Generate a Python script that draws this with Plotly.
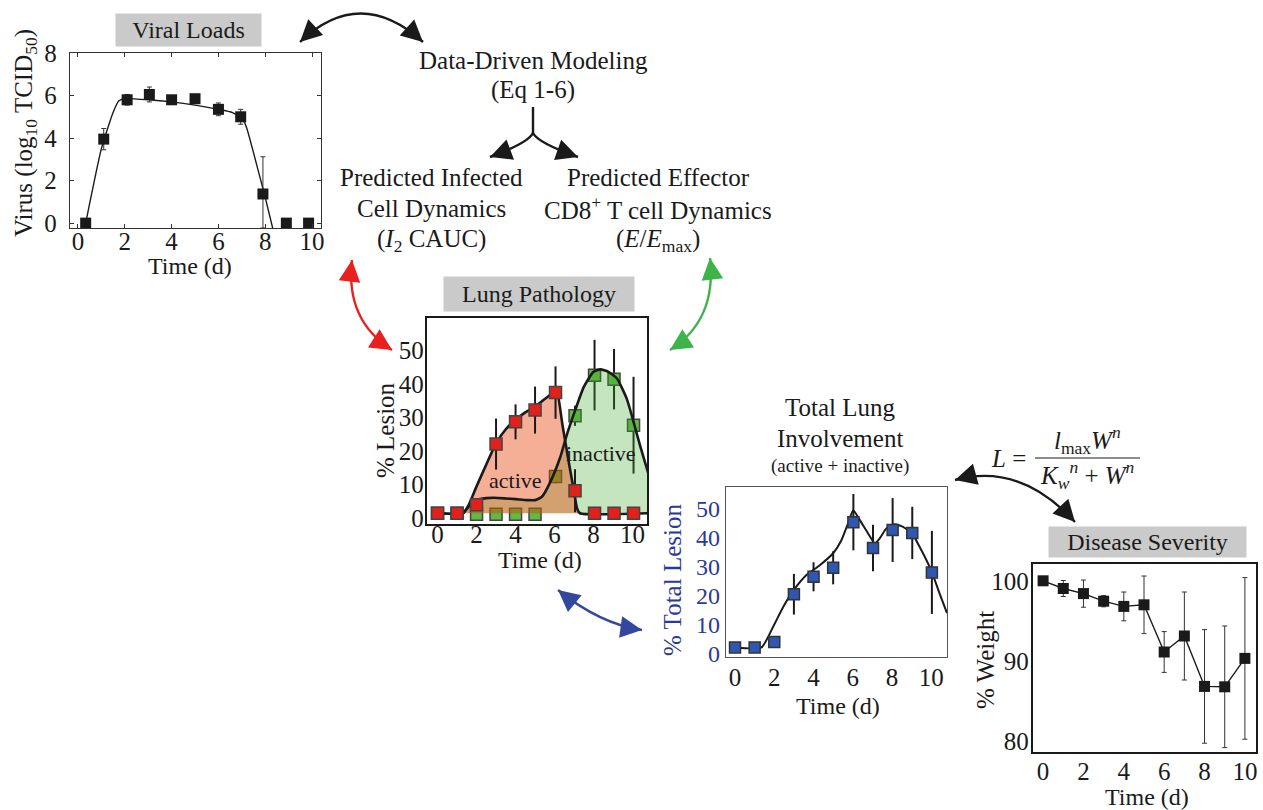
import plotly.graph_objects as go
import numpy as np

W, H = 1263, 810
FONT = "Liberation Serif"
INK = "#1a1a1a"

# ---------------- data ----------------
# Viral loads
viral_t = [0.33, 1.1, 2.1, 3.05, 4.0, 5.0, 6.0, 6.95, 7.9, 8.9, 9.85]
viral_v = [0.0, 3.95, 5.8, 6.05, 5.8, 5.85, 5.35, 5.0, 1.37, 0.0, 0.0]
viral_err_plus = [0, 0.5, 0.25, 0.35, 0.2, 0.1, 0.3, 0.35, 1.75, 0, 0]
viral_err_minus = [0, 0.5, 0.25, 0.35, 0.2, 0.1, 0.3, 0.35, 1.6, 0, 0]
viral_fit_t = [0.33, 1.0, 1.5, 1.75, 2.0, 3.0, 4.0, 5.0, 6.0, 6.6, 7.0, 7.2, 7.5, 8.0, 8.32]
viral_fit_v = [0.0, 3.5, 5.2, 5.75, 5.85, 5.8, 5.7, 5.55, 5.35, 5.2, 4.95, 4.5, 3.3, 1.2, -0.25]

# Lung pathology
path_t = [0, 1, 2, 3, 4, 5, 6.05, 7.05, 8.05, 9.05, 10.05]
active_v = [1.5, 1.5, 4.0, 22.1, 28.7, 32.2, 37.4, 8.2, 1.5, 1.5, 1.5]
active_err = [0, 0, 0, 7.6, 5.2, 7.0, 7.8, 6.4, 0, 0, 0]
inactive_v = [1.5, 1.5, 1.2, 1.2, 1.2, 1.2, 12.4, 30.5, 42.6, 41.4, 27.7]
inactive_err = [0, 0, 0, 0, 0, 0, 2, 3, 10.5, 9, 14.4]
act_fit_t = [0, 1.3, 1.6, 2.0, 2.5, 3.0, 3.5, 4.0, 4.5, 5.0, 5.5, 6.0, 6.12, 6.4, 6.75, 7.0, 7.15, 7.3, 10.8]
act_fit_v = [1.5, 1.5, 4.0, 9.5, 16.0, 22.3, 26.5, 29.3, 31.5, 33.3, 35.5, 37.6, 38.0, 28.0, 16.0, 8.0, 3.0, 1.5, 1.5]
inact_fit_t = [0, 1.3, 1.6, 2.0, 2.5, 2.9, 3.5, 4.0, 4.6, 5.0, 5.35, 5.75, 6.3, 6.6, 7.0, 7.5, 8.0, 8.35, 8.75, 9.2, 9.7, 10.05, 10.4, 10.8]
inact_fit_v = [1.5, 1.5, 3.5, 5.4, 6.0, 6.1, 5.9, 5.7, 5.4, 5.4, 6.4, 10.4, 18.3, 24.3, 31.2, 39.1, 43.6, 44.3, 43.6, 41.6, 35.6, 28.7, 21.3, 13.5]
path_base = 1.5

# Total lung involvement
total_t = [0, 1, 2, 3, 4, 5, 6.03, 7.03, 8.03, 9.03, 10.03]
total_v = [2.2, 2.2, 4.1, 20.5, 26.5, 29.6, 45.3, 36.4, 42.6, 41.6, 28.0]
total_err = [0, 0, 0, 7, 5, 5.7, 9.7, 8, 11, 9, 14.3]
total_fit_t = [0, 1.35, 1.95, 2.46, 3.0, 3.64, 4.32, 5.0, 5.42, 5.76, 6.02, 6.36, 6.78, 7.12, 7.37, 7.71, 8.14, 8.56, 9.02, 9.49, 10.02, 10.42, 10.8]
total_fit_v = [2.2, 2.2, 9.4, 16.2, 22.0, 27.1, 30.5, 34.6, 39.1, 44.9, 49.4, 46.0, 41.4, 38.0, 39.7, 43.1, 44.6, 43.7, 41.4, 35.7, 28.3, 20.8, 14.0]

# Disease severity
dis_t = [0, 1, 2, 3, 4, 5, 6, 7, 8, 9, 10]
dis_v = [100, 99.04, 98.4, 97.45, 96.8, 97.0, 91.1, 93.1, 86.8, 86.75, 90.3]
dis_err = [0, 1, 1.7, 0.7, 1.8, 3.6, 2.55, 5.5, 7.1, 7.6, 10.1]

time_ticks = [0, 2, 4, 6, 8, 10]

# ---------------- helpers ----------------
def PX(x):
    return x / W

def PY(y):
    return 1 - y / H

fig = go.Figure()

# ---- panel 1: viral loads
fig.add_trace(go.Scatter(x=viral_fit_t, y=viral_fit_v, mode="lines",
                         line=dict(color=INK, width=1.4, shape="spline", smoothing=0.5),
                         xaxis="x", yaxis="y", hoverinfo="skip"))
fig.add_trace(go.Scatter(x=viral_t, y=viral_v, mode="markers",
                         marker=dict(symbol="square", size=11, color=INK),
                         error_y=dict(type="data", array=viral_err_plus, arrayminus=viral_err_minus,
                                      color="#333", thickness=1, width=2.5),
                         xaxis="x", yaxis="y"))

# ---- panel 2: lung pathology
fig.add_trace(go.Scatter(x=path_t, y=inactive_v, mode="markers",
                         marker=dict(symbol="square", size=12, color="#62b946",
                                     line=dict(color="#444", width=1.5)),
                         error_y=dict(type="data", array=inactive_err, color=INK, thickness=2, width=0),
                         xaxis="x2", yaxis="y2"))
fig.add_trace(go.Scatter(x=list(inact_fit_t) + [inact_fit_t[-1], inact_fit_t[0]],
                         y=list(inact_fit_v) + [path_base, path_base],
                         mode="lines", fill="toself", fillcolor="rgba(60,170,40,0.3)",
                         line=dict(width=0), xaxis="x2", yaxis="y2", hoverinfo="skip"))
fig.add_trace(go.Scatter(x=list(act_fit_t) + [act_fit_t[-1], act_fit_t[0]],
                         y=list(act_fit_v) + [path_base, path_base],
                         mode="lines", fill="toself", fillcolor="rgba(231,64,5,0.42)",
                         line=dict(width=0), xaxis="x2", yaxis="y2", hoverinfo="skip"))
fig.add_trace(go.Scatter(x=inact_fit_t, y=inact_fit_v, mode="lines",
                         line=dict(color=INK, width=2.6, shape="spline", smoothing=0.5),
                         xaxis="x2", yaxis="y2", hoverinfo="skip"))
fig.add_trace(go.Scatter(x=act_fit_t, y=act_fit_v, mode="lines",
                         line=dict(color=INK, width=2.6, shape="spline", smoothing=0.5),
                         xaxis="x2", yaxis="y2", hoverinfo="skip"))
fig.add_trace(go.Scatter(x=path_t, y=active_v, mode="markers",
                         marker=dict(symbol="square", size=12, color="#e3211c",
                                     line=dict(color="#444", width=1.5)),
                         error_y=dict(type="data", array=active_err, color=INK, thickness=2, width=0),
                         xaxis="x2", yaxis="y2"))

# ---- panel 3: total lung involvement
fig.add_trace(go.Scatter(x=total_fit_t, y=total_fit_v, mode="lines",
                         line=dict(color=INK, width=2, shape="spline", smoothing=0.5),
                         xaxis="x3", yaxis="y3", hoverinfo="skip"))
fig.add_trace(go.Scatter(x=total_t, y=total_v, mode="markers",
                         marker=dict(symbol="square", size=11, color="#2f56b0",
                                     line=dict(color="#333", width=1.5)),
                         error_y=dict(type="data", array=total_err, color=INK, thickness=2, width=0),
                         xaxis="x3", yaxis="y3"))

# ---- panel 4: disease severity
fig.add_trace(go.Scatter(x=dis_t, y=dis_v, mode="lines+markers",
                         line=dict(color=INK, width=1.4),
                         marker=dict(symbol="square", size=11, color=INK),
                         error_y=dict(type="data", array=dis_err, color="#333", thickness=1, width=2.5),
                         xaxis="x4", yaxis="y4"))

# ---------------- axes ----------------
TS = 25
tickfont = dict(family=FONT, size=TS, color=INK)

def xax(domain, rng, anchor, lw, lc, ticks="", standoff=4):
    return dict(domain=domain, range=rng, anchor=anchor, tickvals=time_ticks,
                showline=True, linewidth=lw, linecolor=lc, mirror="ticks" if ticks else True,
                ticks=ticks, ticklen=4, tickcolor=lc, showgrid=False, zeroline=False,
                tickfont=tickfont, ticklabelstandoff=standoff, fixedrange=True)

def yax(domain, rng, anchor, tickvals, lw, lc, ticks="", standoff=4, font=tickfont):
    return dict(domain=domain, range=rng, anchor=anchor, tickvals=tickvals,
                showline=True, linewidth=lw, linecolor=lc, mirror="ticks" if ticks else True,
                ticks=ticks, ticklen=4, tickcolor=lc, showgrid=False, zeroline=False,
                tickfont=font, ticklabelstandoff=standoff, fixedrange=True)

def dom_x(a, b):
    return [a / W, b / W]

def dom_y(top, bottom):
    return [1 - bottom / H, 1 - top / H]

BLUE = "#2b3a96"
blue_font = dict(family=FONT, size=24, color=BLUE)

fig.update_layout(
    xaxis=xax(dom_x(70, 321), [-0.34, 10.38], "y", 1.3, "#333", ticks="inside", standoff=-9),
    yaxis=yax(dom_y(53, 228), [-0.23, 8], "x", [0, 2, 4, 6, 8], 1.3, "#333", ticks="inside", standoff=7),
    xaxis2=xax(dom_x(427, 647), [-0.54, 10.74], "y2", 2.4, INK, standoff=-13),
    yaxis2=yax(dom_y(318, 524), [-1.7, 59.6], "x2", [0, 10, 20, 30, 40, 50], 2.4, INK, standoff=-4),
    xaxis3=xax(dom_x(726, 947), [-0.46, 10.8], "y3", 1.4, "#555", standoff=-2),
    yaxis3=yax(dom_y(487, 657), [-1.1, 57.4], "x3", [0, 10, 20, 30, 40, 50], 1.4, "#555", standoff=0, font=blue_font),
    xaxis4=xax(dom_x(1033, 1256), [-0.5, 10.55], "y4", 2.4, INK, standoff=-4),
    yaxis4=yax(dom_y(564, 752), [78.6, 102.1], "x4", [80, 90, 100], 2.4, INK, standoff=-3),
)

# ---------------- annotations ----------------
ann = []

def txt(s, x, y, size=25, color=INK, angle=0, **kw):
    d = dict(text=s, x=PX(x), y=PY(y), xref="paper", yref="paper", showarrow=False,
             xanchor="center", yanchor="middle", textangle=angle,
             font=dict(family=FONT, size=size, color=color))
    d.update(kw)
    ann.append(d)

def boxed(s, cx, cy, w, h, size=24):
    ann.append(dict(text=s, x=PX(cx), y=PY(cy), xref="paper", yref="paper", showarrow=False,
                    xanchor="center", yanchor="middle", width=w, height=h, bgcolor="#cacaca",
                    borderpad=0, font=dict(family=FONT, size=size, color=INK)))

boxed("Viral Loads", 188.5, 30, 145, 32)
boxed("Lung Pathology", 539, 294, 190, 34)
boxed("Disease Severity", 1147.5, 542, 197, 30)

# axis titles
txt("Virus (log<sub>10</sub> TCID<sub>50</sub>)", 25, 133, angle=-90)
txt("Time (d)", 190, 266, size=24)
txt("% Lesion", 385, 430, angle=-90)
txt("Time (d)", 540, 560, size=24)
txt("% Total Lesion", 672, 580, angle=-90, color=BLUE)
txt("Time (d)", 838, 706, size=24)
txt("% Weight", 985, 660, angle=-90)
txt("Time (d)", 1147, 797, size=24)

# in-plot labels
txt("active", 515, 480, size=22)
txt("inactive", 601, 453, size=22)

# panel 3 headings
txt("Total Lung", 840, 408, size=25)
txt("Involvement", 840, 438, size=25)
txt("(active + inactive)", 840, 466, size=19)

# model text
txt("Data-Driven Modeling", 533, 60)
txt("(Eq 1-6)", 533, 90)
txt("Predicted Infected", 432, 177)
txt("Cell Dynamics", 432, 208)
txt("(<i>I</i><sub>2</sub> CAUC)", 432, 240)
txt("Predicted Effector", 658, 177)
txt("CD8<sup>+</sup> T cell Dynamics", 658, 208)
txt("(<i>E</i>/<i>E</i><sub>max</sub>)", 658, 240)

# equation
txt("<i>L</i> =", 1008, 458, size=25)
txt("<i>l</i><sub>max</sub><i>W</i><sup><i>n</i></sup>", 1087, 440, size=25)
txt("<i>K</i><sub><i>w</i></sub><sup><i>n</i></sup> + <i>W</i><sup><i>n</i></sup>", 1087, 475, size=25)

shapes = [dict(type="line", xref="paper", yref="paper", x0=PX(1035), x1=PX(1140),
               y0=PY(458), y1=PY(458), line=dict(color=INK, width=1.2))]

# ---------------- arrows ----------------
def curve(p0, c, p1, color, width=2.4, heads=(True, True)):
    path = (f"M {PX(p0[0])},{PY(p0[1])} Q {PX(c[0])},{PY(c[1])} {PX(p1[0])},{PY(p1[1])}")
    shapes.append(dict(type="path", xref="paper", yref="paper", path=path,
                       line=dict(color=color, width=width)))
    for tip, on in ((p0, heads[0]), (p1, heads[1])):
        if not on:
            continue
        dx, dy = c[0] - tip[0], c[1] - tip[1]
        n = (dx * dx + dy * dy) ** 0.5
        L = 12.0
        ann.append(dict(text="", x=PX(tip[0]), y=PY(tip[1]), xref="paper", yref="paper",
                        showarrow=True, ax=dx / n * L, ay=dy / n * L, axref="pixel", ayref="pixel",
                        arrowhead=2, arrowsize=1.8, arrowwidth=width, arrowcolor=color, standoff=0))

curve((300, 42), (360, -15), (423, 42), INK)
curve((352, 260), (345, 320), (392, 350), "#e8201e")
curve((710, 258), (717, 320), (670, 350), "#3cb44a")
curve((558, 590), (600, 624), (642, 630), "#34479e")
curve((955, 480), (1020, 462), (1075, 522), INK)
# fork
shapes.append(dict(type="line", xref="paper", yref="paper", x0=PX(533), x1=PX(533),
                   y0=PY(107), y1=PY(133), line=dict(color=INK, width=2.4)))
curve((533, 133), (528, 143), (490, 157), INK, heads=(False, True))
curve((533, 133), (538, 143), (578, 157), INK, heads=(False, True))

fig.update_layout(
    annotations=ann, shapes=shapes,
    width=W, height=H, autosize=False,
    margin=dict(l=0, r=0, t=0, b=0, pad=0, autoexpand=False),
    paper_bgcolor="white", plot_bgcolor="rgba(0,0,0,0)",
    showlegend=False,
    font=dict(family=FONT, color=INK),
)

fig.write_html("out.html", config={"displayModeBar": False},
               post_script="document.body.style.margin='0';document.body.style.overflow='hidden';")
